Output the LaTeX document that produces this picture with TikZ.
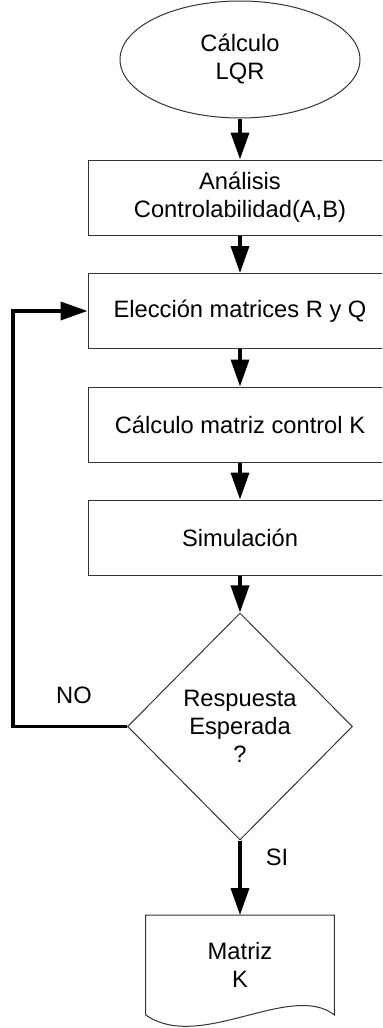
\documentclass[tikz,border=0pt]{standalone}
\usepackage{fontspec}
\setmainfont{Liberation Sans}
\usetikzlibrary{
    arrows.meta,
    shapes.geometric
}

\begin{document}
\begin{tikzpicture}[
    x=0.5pt, y=0.5pt,
    font=\fontsize{11.85}{14}\selectfont,
    box/.style={
        rectangle,
        draw=black!80,
        line width=0.5pt,
        align=center,
        minimum width=152pt,
        minimum height=37.5pt,
        inner sep=0pt
    },
    startbox/.style={
        ellipse,
        draw=black!80,
        line width=0.5pt,
        align=center,
        minimum width=120pt,
        minimum height=58.5pt,
        inner sep=0pt
    },
    decision/.style={
        diamond,
        draw=black!80,
        line width=0.5pt,
        align=center,
        minimum width=112.5pt,
        minimum height=113.5pt,
        inner sep=0pt
    },
    docbox/.style={
        rectangle,
        align=center,
        minimum width=94pt,
        minimum height=49.5pt,
        inner sep=0pt
    },
    arrow/.style={
        -{Triangle[length=13.5pt,width=9pt]},
        line width=1.8pt,
        draw=black
    }
]

\useasboundingbox (0,0) rectangle (382,-1028);
\clip (0,0) rectangle (382,-1028);

% =========================================================
% Main chain
% =========================================================
\node[startbox] (lqr) at (240,-59.5)
{C\'alculo\\LQR};

\node[box] (analisis) at (240,-197.5)
{An\'alisis\\Controlabilidad(A,B)};

\node[box] (eleccion) at (240,-311)
{Elecci\'on matrices R y Q};

\node[box] (calculok) at (240,-424.5)
{C\'alculo matriz control K};

\node[box] (simulacion) at (240,-537.5)
{Simulaci\'on};

\node[decision] (respuesta) at (240,-726.5)
{Respuesta\\Esperada\\?};

\node[docbox] (matrizk) at (240,-965)
{Matriz\\K};

% document outline with wavy bottom
\draw[draw=black!80, line width=0.5pt]
    (matrizk.south west) -- (matrizk.north west) -- (matrizk.north east)
    -- (matrizk.south east)
    .. controls +(-44,34) and +(54,-38) .. (matrizk.south west);

% =========================================================
% Arrows
% =========================================================
\draw[arrow] (lqr) -- (analisis);
\draw[arrow] (analisis) -- (eleccion);
\draw[arrow] (eleccion) -- (calculok);
\draw[arrow] (calculok) -- (simulacion);
\draw[arrow] (simulacion) -- (respuesta);

\draw[arrow] (respuesta.south) -- node[xshift=18.5pt, yshift=10pt] {SI} (matrizk.north);

% back to the choice of R and Q
\coordinate (back) at (13,-726.5);
\draw[arrow] (respuesta.west) -- node[xshift=2pt, yshift=15.5pt] {NO} (back) |- (eleccion.west);

\end{tikzpicture}
\end{document}
